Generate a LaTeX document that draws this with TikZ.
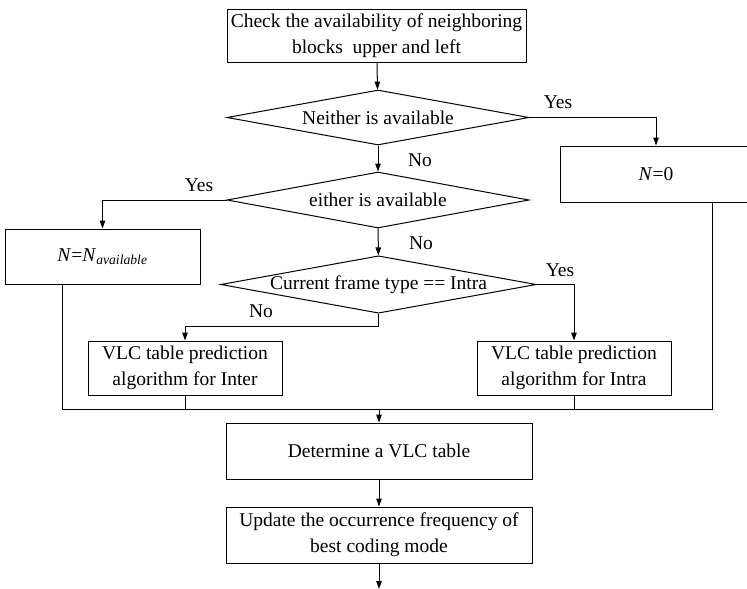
\documentclass[tikz,border=0pt]{standalone}
\usepackage{fontspec}
\setmainfont{Liberation Serif}
\usetikzlibrary{arrows.meta,shapes.geometric}
\begin{document}
\begin{tikzpicture}[x=1pt,y=-1pt,
  every node/.style={font=\fontsize{19.5}{26}\selectfont},
  box/.style={draw,line width=1pt,rectangle,inner sep=0pt,align=center},
  dec/.style={draw,line width=1pt,diamond,aspect=5.5,inner sep=0pt,align=center},
  lbl/.style={inner sep=0pt},
  ln/.style={line width=1pt},
  arr/.style={line width=1pt,-{Triangle[length=8pt,width=5.5pt]}}]
\useasboundingbox (0,0) rectangle (747,589);
% boxes
\node[box,minimum width=299pt,minimum height=53pt] (top) at (376.5,35.5)
  {Check the availability of neighboring\\blocks~ upper and left};
\node[dec,minimum width=302pt,minimum height=55pt] (d1) at (378,117.5) {Neither is available};
\node[dec,minimum width=302pt,minimum height=56pt] (d2) at (378,200) {either is available};
\node[dec,minimum width=307pt,minimum height=55pt] (d3) at (378.5,284.5) {Current frame type == Intra};
\node[box,minimum width=192pt,minimum height=56pt] (n0) at (656,174) {\textit{N}=0};
\node[box,minimum width=195pt,minimum height=55pt] (na) at (102.5,256.5)
  {\textit{N}=\textit{N}\textsubscript{\textit{available}}};
\node[box,minimum width=194pt,minimum height=54pt] (inter) at (185,368)
  {VLC table prediction\\algorithm for Inter};
\node[box,minimum width=194pt,minimum height=54pt] (intra) at (574,368)
  {VLC table prediction\\algorithm for Intra};
\node[box,minimum width=306pt,minimum height=56pt] (det) at (379,451) {Determine a VLC table};
\node[box,minimum width=306pt,minimum height=56pt] (upd) at (379,535)
  {Update the occurrence frequency of\\best coding mode};
% labels
\node[lbl] (y1) at (558,102) {Yes};
\node[lbl] (n1) at (420,160) {No};
\node[lbl] (y2) at (199,185) {Yes};
\node[lbl] (n2) at (421,243) {No};
\node[lbl] (y3) at (560,270) {Yes};
\node[lbl] (n3) at (261,311) {No};
% helper coordinates
\coordinate (nob) at (378.5,326);
\coordinate (ml) at (62,409);
\coordinate (mr) at (712,409);
\coordinate (end) at (379,589);
% connectors
\draw[arr] (top) -- (d1);
\draw[arr] (d1.east) -| (n0.north);
\draw[arr] (d1) -- (d2);
\draw[arr] (d2.west) -| (na.north);
\draw[arr] (d2) -- (d3);
\draw[arr] (d3.east) -| (intra.north);
\draw[arr] (d3.south) -- (nob) -| (inter.north);
\draw[ln] (ml |- na.south) -- (ml) -- (mr) -- (mr |- n0.south);
\draw[ln] (inter.south) -- (inter.south |- ml);
\draw[ln] (intra.south) -- (intra.south |- ml);
\draw[arr] (det.north |- ml) -- (det.north);
\draw[arr] (det) -- (upd);
\draw[arr] (upd.south) -- (end);
\end{tikzpicture}
\end{document}
